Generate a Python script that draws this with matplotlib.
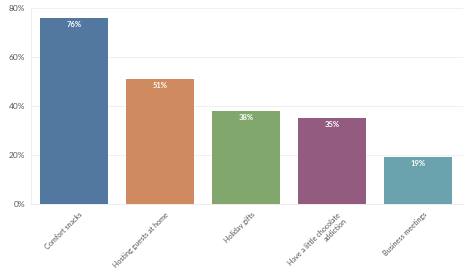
import matplotlib

matplotlib.use("Agg")
from matplotlib import pyplot as plt
from matplotlib.ticker import PercentFormatter
from matplotlib.transforms import ScaledTranslation

categories = ["Comfort snacks", "Hosting guests at home", "Holiday gifts",
              "Have a little chocolate\naddiction", "Business meetings"]
values = [76, 51, 38, 35, 19]
colors = ["#52789f", "#cf8b5f", "#82a76c", "#945b80", "#6aa3ad"]

plt.rcParams['font.family'] = ['Lato', 'DejaVu Sans']

fig = plt.figure(figsize=(4.72, 2.73), dpi=100)
ax = fig.add_axes([31 / 472, 1 - 204 / 273, 432 / 472, 196 / 273])

x = range(len(categories))
bars = ax.bar(x, values, width=0.79, color=colors, zorder=2)

for b, v in zip(bars, values):
    ax.text(b.get_x() + b.get_width() / 2, v - 1.2, f"{v}%", ha='center', va='top',
            color='white', fontsize=5.5, fontweight='bold', zorder=3)

ax.set_xlim(-0.5, 4.52)
ax.set_ylim(0, 80)
ax.set_yticks([0, 20, 40, 60, 80])
ax.yaxis.set_major_formatter(PercentFormatter(decimals=0))
ax.grid(axis='y', color='#f0f0f0', linewidth=0.7, zorder=0)
ax.set_xticks(list(x))
ax.set_xticklabels(categories, rotation=45, ha='right', rotation_mode='anchor',
                   fontsize=5.2, color='#555555')
ax.tick_params(axis='y', labelsize=6, labelcolor='#555555', length=0, pad=4)
ax.tick_params(axis='x', length=0, pad=3)

# nudge the slanted labels a little right and down
shift = ScaledTranslation(0.05, -0.03, fig.dpi_scale_trans)
for lbl in ax.get_xticklabels():
    lbl.set_transform(lbl.get_transform() + shift)

for s in ['top', 'right']:
    ax.spines[s].set_visible(False)
for s in ['left', 'bottom']:
    ax.spines[s].set_color('#eeeeee')
    ax.spines[s].set_linewidth(0.7)

fig.savefig("out.png", dpi=100)
